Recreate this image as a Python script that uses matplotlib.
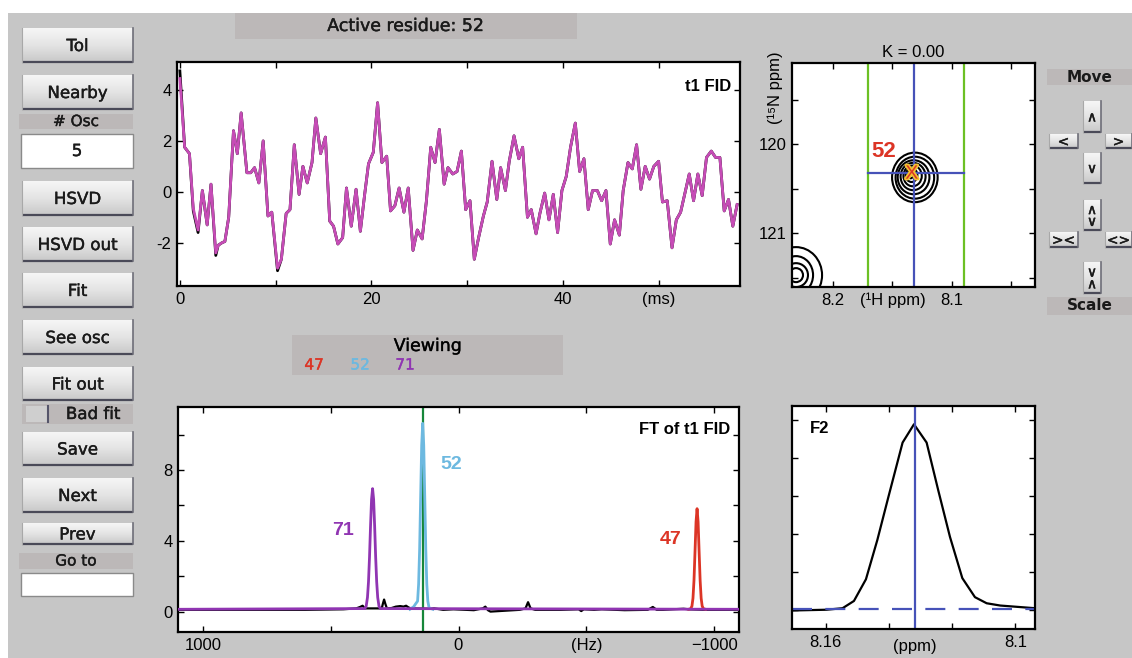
import numpy as np
import matplotlib.pyplot as plt
from matplotlib.patches import Rectangle, Ellipse
from matplotlib.colors import LinearSegmentedColormap
import matplotlib.patheffects as pe

plt.rcParams['font.family'] = ['Liberation Sans', 'DejaVu Sans']

# ---- t1 FID: time (ms), data (black) and fit (magenta) ----
fid_t = [0, 0.5, 1.0, 1.4, 1.9, 2.35, 2.85, 3.25, 3.75, 4.0,
         4.4, 4.7, 5.1, 5.6, 6.0, 6.4, 7.0, 7.4, 7.8, 8.25,
         8.7, 9.2, 9.6, 10.2, 10.6, 11.1, 11.5, 11.95, 12.45, 12.85,
         13.3, 13.8, 14.2, 14.7, 15.2, 15.65, 16.05, 16.5, 17.0, 17.4,
         17.9, 18.4, 18.85, 19.3, 19.7, 20.2, 20.65, 21.1, 21.6, 22.0,
         22.45, 22.9, 23.4, 23.85, 24.35, 24.8, 25.3, 25.75, 26.2, 26.65,
         27.1, 27.6, 28.0, 28.5, 28.95, 29.4, 29.85, 30.3, 30.75, 31.2,
         31.7, 32.1, 32.6, 33.1, 33.5, 34.0, 34.4, 34.9, 35.4, 35.8,
         36.3, 36.7, 37.2, 37.6, 38.1, 38.55, 39.0, 39.45, 39.9, 40.35,
         40.8, 41.3, 41.75, 42.2, 42.65, 43.1, 43.6, 44.05, 44.5, 44.95,
         45.4, 45.9, 46.3, 46.8, 47.25, 47.7, 48.15, 48.6, 49.05, 49.5,
         50.0, 50.4, 50.9, 51.4, 51.85, 52.3, 52.75, 53.2, 53.65, 54.1,
         54.55, 55.0, 55.5, 55.95, 56.4, 56.85, 57.3, 57.75, 58.2]
fid_data = [4.75, 1.75, 1.5, -0.75, -1.6, 0.05, -1.3, 0.3, -2.5, -2.1,
            -2.0, -1.95, -1.0, 2.4, 1.5, 3.1, 0.75, 0.75, 0.95, 0.35,
            2.0, -0.95, -0.8, -3.1, -2.65, -0.85, -0.7, 1.85, -0.1, 1.0,
            0.35, 1.15, 2.9, 1.5, 2.15, -1.15, -1.35, -2.05, -1.8, 0.15,
            -1.35, 0.1, -1.55, -0.1, 1.1, 1.55, 3.5, 1.15, 1.4, -0.75,
            -0.55, 0.15, -0.8, 0.15, -2.3, -1.5, -1.85, -0.35, 1.75, 1.15,
            2.45, 0.3, 0.95, 0.7, 0.8, 1.6, -0.7, -0.35, -2.65, -1.8,
            -0.95, -0.4, 1.2, -0.3, 0.95, 0.05, 1.2, 2.2, 1.3, 1.75,
            -1.0, -0.7, -1.65, -0.85, -0.05, -1.1, -0.1, -1.6, 0.05, 0.6,
            1.75, 2.7, 0.8, 1.3, -0.7, 0.05, 0.05, -0.35, 0.05, -2.05,
            -1.1, -1.7, 0.05, 1.15, 0.9, 1.85, 0.1, 1.0, 0.5, 1.0,
            1.2, -0.4, -0.35, -2.2, -1.1, -0.8, -0.05, 0.7, -0.35, 0.7,
            -0.15, 1.35, 1.6, 1.35, 1.35, -0.75, -0.3, -1.35, -0.5]
fid_fit = list(fid_data)
fid_fit[0] = 4.45
fid_fit[3] = -0.65
fid_fit[4] = -1.5
fid_fit[8] = -2.4
fid_fit[23] = -3.0

# ---- FT of t1 FID (Hz, amplitude) ----
ft_hz = [1097, 600, 450, 400, 385, 375, 366, 300, 296, 291, 286, 280, 262, 245,
         228, 215, 205, 195, 185, 120, 95, 60, 20, -60, -95, -105, -115, -125,
         -240, -262, -272, -282, -300, -400, -470, -480, -490, -530, -560, -650,
         -740, -760, -775, -800, -880, -900, -960, -1000, -1097]
ft_amp = [0.12, 0.12, 0.15, 0.2, 0.28, 0.35, 0.2, 0.2, 0.45, 0.7, 0.45, 0.2, 0.22, 0.3,
          0.33, 0.3, 0.35, 0.25, 0.2, 0.18, 0.2, 0.12, 0.15, 0.1, 0.2, 0.3, 0.1, 0.02,
          0.12, 0.2, 0.55, 0.2, 0.12, 0.12, 0.15, 0.05, 0.15, 0.12, 0.15, 0.1,
          0.12, 0.28, 0.12, 0.12, 0.18, 0.15, 0.12, 0.12, 0.12]

osc71_hz = [1097, 366, 361, 356, 352, 348, 344, 340, 336, 332, 328, 324, 320, 316, 311, 306, -1097]
osc71_amp = [0.15, 0.19, 0.33, 0.82, 1.7, 3.1, 4.85, 6.35, 6.95, 6.35, 4.85, 3.1, 1.7, 0.82, 0.33, 0.19, 0.15]
osc52_hz = [190, 175, 168, 160, 156, 152, 148, 144, 140, 136, 132, 128, 124, 120, 115, 100]
osc52_amp = [0.15, 0.3, 0.45, 0.61, 1.57, 3.55, 6.5, 9.4, 10.63, 9.4, 6.5, 3.55, 1.57, 0.61, 0.23, 0.15]
osc47_hz = [-900, -908, -913, -917, -921, -925, -929, -933, -937, -941, -945, -949, -953, -958, -966]
osc47_amp = [0.15, 0.18, 0.33, 0.77, 1.78, 3.41, 5.08, 5.82, 5.08, 3.41, 1.78, 0.77, 0.33, 0.18, 0.15]
ft_marker_hz = 140

# ---- 2D spectrum: contour rings (1H ppm, 15N ppm, width, height) ----
ring52_x = [8.1311, 8.1311, 8.1322, 8.1326, 8.1330, 8.1339, 8.1347]
ring52_y = [120.372, 120.375, 120.370, 120.362, 120.355, 120.347, 120.339]
ring52_w = [0.0385, 0.0326, 0.0268, 0.0211, 0.0155, 0.0099, 0.0048]
ring52_h = [0.555, 0.470, 0.381, 0.306, 0.232, 0.153, 0.086]
ringcorner_x = 8.2315
ringcorner_y = 121.467
ringcorner_w = [0.044, 0.0288, 0.0202, 0.0118]
ringcorner_h = [0.628, 0.426, 0.268, 0.157]
peak_h = 8.1318
peak_n = 120.321
window_h = [8.1704, 8.0892]

# ---- F2 slice ----
f2_ppm = [8.1707, 8.1598, 8.1547, 8.1511, 8.1473, 8.1437, 8.1402, 8.1357, 8.1321,
          8.1281, 8.1244, 8.1207, 8.1168, 8.1128, 8.1091, 8.1048, 8.0938]
f2_amp = [0.0, 0.02, 0.06, 0.25, 0.82, 1.85, 2.98, 4.41, 4.89,
          4.41, 3.15, 1.93, 0.85, 0.35, 0.19, 0.13, 0.06]
f2_base = 0.05

MAGENTA = '#C64CB6'
PURPLE = '#9035B2'
CYAN = '#6DB9E0'
RED = '#DC3526'
DGREEN = '#17873A'
LGREEN = '#6CC024'
BLUE = '#4652B8'

W, H = 1132, 658
fig = plt.figure(figsize=(W / 100, H / 100), dpi=100)
fig.patch.set_facecolor('white')

bg = fig.add_axes([0, 0, 1, 1])
bg.axis('off')
bg.add_patch(Rectangle((8, 13), W - 8, H - 13, facecolor='#C6C6C6', edgecolor='none'))

grad = np.linspace(0, 1, 40)[:, None]
btn_cmap = LinearSegmentedColormap.from_list('btn', ['#F6F6F6', '#E4E4E4', '#C9C9C9'])
GUI = 'DejaVu Sans'
heavy = [pe.withStroke(linewidth=0.3, foreground='#1A1A1A')]


def button(x0, y0, x1, y1, label, fs=12):
    bg.imshow(grad, extent=(x0, x1, y1, y0), cmap=btn_cmap, aspect='auto',
              interpolation='bilinear', zorder=1)
    bg.plot([x0, x1], [y1, y1], color='#4A4A58', lw=1.6, zorder=2, solid_capstyle='butt')
    bg.plot([x1, x1], [y0, y1], color='#6E6E78', lw=1.2, zorder=2)
    bg.plot([x0, x0], [y0, y1], color='#A8A8A8', lw=0.8, zorder=2)
    bg.text((x0 + x1) / 2, (y0 + y1) / 2 + 1, label, ha='center', va='center',
            fontsize=fs, family=GUI, color='#1A1A1A', zorder=3, linespacing=0.8,
            path_effects=heavy)


def labelbox(x0, y0, x1, y1, label, fs=11, bold=False):
    bg.add_patch(Rectangle((x0, y0), x1 - x0, y1 - y0, facecolor='#BCB8B8',
                           edgecolor='none', zorder=1))
    bg.text((x0 + x1) / 2, (y0 + y1) / 2, label, ha='center', va='center', fontsize=fs,
            family=GUI, weight='bold' if bold else 'normal', color='#1A1A1A', zorder=3,
            path_effects=None if bold else heavy)


def field(x0, y0, x1, y1, label=''):
    bg.add_patch(Rectangle((x0, y0), x1 - x0, y1 - y0, facecolor='white',
                           edgecolor='#8A8A8A', lw=1, zorder=1))
    bg.text((x0 + x1) / 2, (y0 + y1) / 2, label, ha='center', va='center', fontsize=12,
            family=GUI, color='#1A1A1A', zorder=3, path_effects=heavy)


# left column
for lab, y0, y1 in [('Tol', 28, 62), ('Nearby', 75, 109), ('HSVD', 181, 215),
                    ('HSVD out', 227, 261), ('Fit', 273, 307), ('See osc', 320, 354),
                    ('Fit out', 367, 400), ('Save', 432, 465), ('Next', 478, 512),
                    ('Prev', 523, 544)]:
    button(22, y0, 133, y1, lab)
labelbox(19, 114, 133, 129, '# Osc')
field(21, 134, 133, 168, '5')
labelbox(22, 404, 133, 424, '')
bg.add_patch(Rectangle((26, 406), 22, 16, facecolor='#CFCFCF', edgecolor='none', zorder=2))
bg.plot([48, 48], [406, 422], color='#55556A', lw=1.5, zorder=3)
bg.text(93, 414, 'Bad fit', ha='center', va='center', fontsize=12, family=GUI,
        color='#1A1A1A', zorder=3, path_effects=heavy)
labelbox(19, 553, 133, 569, 'Go to')
field(21, 573, 133, 596)

# top / middle banners
labelbox(235, 13, 577, 39, 'Active residue: 52', fs=12.5)
labelbox(292, 335, 563, 375, '', fs=12)
bg.text(428, 346, 'Viewing', ha='center', va='center', fontsize=12.5, family=GUI, zorder=3,
        path_effects=heavy)
for lab, xx, col in [('47', 314, RED), ('52', 360, CYAN), ('71', 405, PURPLE)]:
    bg.text(xx, 365, lab, ha='center', va='center', fontsize=11, family=GUI, color=col, zorder=3,
            path_effects=[pe.withStroke(linewidth=0.3, foreground=col)])

# right column
labelbox(1047, 69, W, 85, 'Move', fs=11, bold=True)
labelbox(1047, 297, W, 315, 'Scale', fs=11, bold=True)
for lab, x0, y0, x1, y1 in [('\u2227', 1083, 101, 1101, 132), ('<', 1049, 134, 1078, 148),
                            ('>', 1105, 134, W, 148), ('\u2228', 1083, 153, 1101, 183),
                            ('\u2227\n\u2228', 1083, 200, 1101, 230), ('><', 1049, 232, 1078, 247),
                            ('<>', 1105, 232, W, 247), ('\u2228\n\u2227', 1083, 262, 1101, 293)]:
    button(x0, y0, x1, y1, lab, fs=10)

bg.set_xlim(0, W)
bg.set_ylim(H, 0)


def panel(x0, y0, x1, y1):
    ax = fig.add_axes([x0 / W, 1 - y1 / H, (x1 - x0) / W, (y1 - y0) / H])
    ax.set_facecolor('white')
    for s in ax.spines.values():
        s.set_linewidth(1.6)
    ax.tick_params(direction='in', top=True, right=True, length=4, width=1,
                   labelsize=12, pad=4)
    return ax


# t1 FID
ax1 = panel(177, 62, 740, 286)
ax1.plot(fid_t, fid_data, color='black', lw=2.0)
ax1.plot(fid_t, fid_fit, color=MAGENTA, lw=2.0)
ax1.set_xlim(-0.3, 58.5)
ax1.set_ylim(-3.7, 5.1)
ax1.set_xticks([0, 10, 20, 30, 40, 50])
ax1.set_xticklabels(['0', '', '20', '', '40', '(ms)'])
ax1.set_yticks([-2, 0, 2, 4])
ax1.set_yticklabels(['-2', '0', '2', '4'])
ax1.text(0.985, 0.89, 't1 FID', transform=ax1.transAxes, ha='right', va='center',
         fontsize=12, weight='bold')

# FT of t1 FID
ax2 = panel(178, 407, 739, 632)
ax2.axvline(ft_marker_hz, color=DGREEN, lw=1.6, zorder=1)
ax2.plot(ft_hz, ft_amp, color='black', lw=1.6, zorder=2)
ax2.plot(osc52_hz, osc52_amp, color=CYAN, lw=2.0, zorder=3)
ax2.plot(osc47_hz, osc47_amp, color=RED, lw=2.0, zorder=3)
ax2.plot(osc71_hz, osc71_amp, color=PURPLE, lw=2.0, zorder=4)
ax2.set_xlim(1097, -1097)
ax2.set_ylim(-1.13, 11.55)
ax2.set_xticks([1000, 500, 0, -500, -1000])
ax2.set_xticklabels(['1000', '', '0', '(Hz)', '\u22121000'])
ax2.set_yticks([0, 2, 4, 6, 8, 10])
ax2.set_yticklabels(['0', '', '4', '', '8', ''])
ax2.text(0.985, 0.9, 'FT of t1 FID', transform=ax2.transAxes, ha='right', va='center',
         fontsize=12, weight='bold')
ax2.text(453, 4.6, '71', color=PURPLE, fontsize=14, weight='bold', ha='center', va='center')
ax2.text(29, 8.3, '52', color=CYAN, fontsize=14, weight='bold', ha='center', va='center')
ax2.text(-830, 4.1, '47', color=RED, fontsize=14, weight='bold', ha='center', va='center')

# 2D spectrum
ax3 = panel(792, 63, 1035, 287)
for xx, yy, ww, hh in zip(ring52_x, ring52_y, ring52_w, ring52_h):
    ax3.add_patch(Ellipse((xx, yy), ww, hh, fill=False, edgecolor='black', lw=1.5))
for ww, hh in zip(ringcorner_w, ringcorner_h):
    ax3.add_patch(Ellipse((ringcorner_x, ringcorner_y), ww, hh, fill=False,
                          edgecolor='black', lw=1.5))
for xx in window_h:
    ax3.axvline(xx, color=LGREEN, lw=1.6)
ax3.axvline(peak_h, color=BLUE, lw=1.6)
ax3.plot(window_h, [peak_n, peak_n], color=BLUE, lw=1.6)
ax3.text(8.1337, 120.336, 'X', color=RED, fontsize=14, ha='center', va='center',
         path_effects=[pe.withStroke(linewidth=2.5, foreground='#F2C230')])
ax3.text(8.1571, 120.082, '52', color=RED, fontsize=16, weight='bold', ha='center', va='center')
ax3.set_xlim(8.2349, 8.0296)
ax3.set_ylim(121.60, 119.09)
ax3.set_xticks([8.2, 8.15, 8.1, 8.05])
ax3.set_xticklabels(['8.2', '(\u00b9H ppm)', '8.1', ''])
ax3.set_yticks([119.5, 120, 120.5, 121, 121.5])
ax3.set_yticklabels(['', '120', '', '121', ''])
ax3.set_title('\u039a = 0.00', fontsize=12, pad=4)
fig.text(775 / W, 1 - 88 / H, '(\u00b9\u2075N ppm)', rotation=90, ha='center', va='center',
         fontsize=12)

# F2 slice
ax4 = panel(792, 406, 1035, 629)
ax4.plot(f2_ppm, f2_amp, color='black', lw=1.6)
ax4.axvline(peak_h, color=BLUE, lw=1.6)
ax4.axhline(f2_base, color=BLUE, lw=1.6, dashes=(9, 6))
ax4.set_xlim(8.1707, 8.0938)
ax4.set_ylim(-0.486, 5.37)
ax4.set_xticks([8.16, 8.14, 8.12, 8.10])
ax4.set_xticklabels(['8.16', '', '', '8.1'])
ax4.set_yticks([0, 1, 2, 3, 4, 5])
ax4.set_yticklabels([])
ax4.text(0.075, 0.9, 'F2', transform=ax4.transAxes, ha='left', va='center',
         fontsize=12, weight='bold')
fig.text(915 / W, 1 - 646 / H, '(ppm)', ha='center', va='center', fontsize=12)

fig.savefig('out.png', dpi=100)
